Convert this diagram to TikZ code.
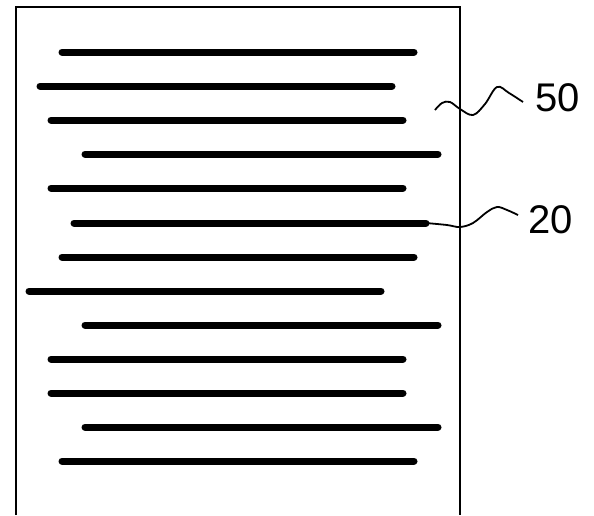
\documentclass[tikz,border=0pt]{standalone}
\usepackage{fontspec}
\setmainfont{Liberation Sans}
\begin{document}
\begin{tikzpicture}[x=1pt, y=-1pt, barStyle/.style={line width=7pt, line cap=round}, frameStyle/.style={line width=1.6pt}, leaderStyle/.style={line width=1.8pt}, labelStyle/.style={inner sep=0pt, anchor=west, font=\fontsize{40}{40}\selectfont}]
                    \useasboundingbox (0,0) rectangle (594,515);

                    % sheet, open at the bottom
                    \coordinate (sheet_SW) at ( 16, 515);
                    \coordinate (sheet_NW) at ( 16,   7);
                    \coordinate (sheet_NE) at (460,   7);
                    \coordinate (sheet_SE) at (460, 515);
                    \draw[frameStyle] (sheet_SW) -- (sheet_NW) -- (sheet_NE) -- (sheet_SE);

                    % lines on the sheet
                    \draw[barStyle] ( 62,  52) -- (414,  52);
                    \draw[barStyle] ( 40,  86) -- (392,  86);
                    \draw[barStyle] ( 51, 120) -- (403, 120);
                    \draw[barStyle] ( 85, 154) -- (438, 154);
                    \draw[barStyle] ( 51, 188) -- (403, 188);
                    \coordinate (bar6_W) at ( 74, 223);
                    \coordinate (bar6_E) at (426, 223);
                    \draw[barStyle] (bar6_W) -- (bar6_E);
                    \draw[barStyle] ( 62, 257) -- (414, 257);
                    \draw[barStyle] ( 29, 291) -- (381, 291);
                    \draw[barStyle] ( 85, 325) -- (438, 325);
                    \draw[barStyle] ( 51, 359) -- (403, 359);
                    \draw[barStyle] ( 51, 393) -- (403, 393);
                    \draw[barStyle] ( 85, 427) -- (438, 427);
                    \draw[barStyle] ( 62, 461) -- (414, 461);

                    % labels
                    \node[labelStyle] (lbl_50) at (535,  98) {50};
                    \node[labelStyle] (lbl_20) at (528, 220) {20};
                    \coordinate (lead50_E) at ([shift={(-12,4)}]lbl_50.west);
                    \coordinate (lead20_E) at ([shift={(-10,-5)}]lbl_20.west);

                    \draw[leaderStyle] plot[smooth, tension=0.6] coordinates {(435,110) (442,103) (450,102) (460,109) (473,115) (485,104) (497,87) (509,93) (lead50_E)};
                    \draw[leaderStyle] plot[smooth, tension=0.6] coordinates {(bar6_E) (447,225) (460,227) (473,223) (487,212) (497,207) (507,210) (lead20_E)};
                \end{tikzpicture}
\end{document}
